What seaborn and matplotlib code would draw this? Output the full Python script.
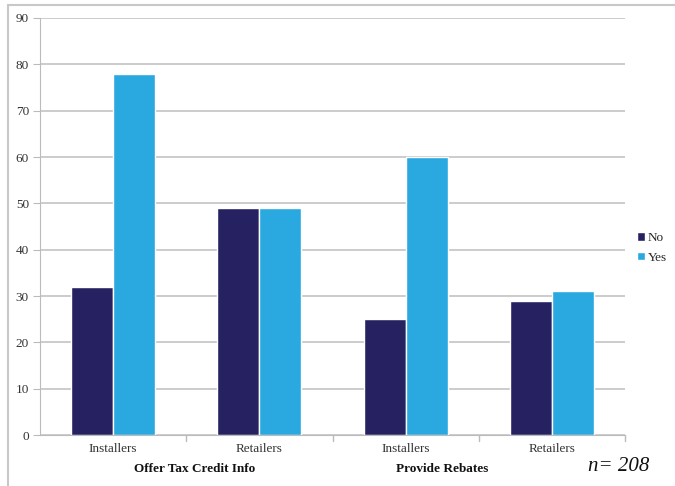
import pandas as pd
import matplotlib
matplotlib.use('Agg')
import matplotlib.pyplot as plt
import seaborn as sns

# ============ DADOS ============
categorias = ['Installers', 'Retailers', 'Installers ', 'Retailers ']
rotulos_x = ['Installers', 'Retailers', 'Installers', 'Retailers']
vals_no = [32, 49, 25, 29]
vals_yes = [78, 49, 60, 31]
grupos = ['Offer Tax Credit Info', 'Provide Rebates']
n_total = 208

cor_no = '#262262'
cor_yes = '#29A9E0'

sns.set_style('white')
plt.rcParams['font.family'] = ['Liberation Serif', 'DejaVu Serif']

df = pd.DataFrame({
    'cat': categorias * 2,
    'valor': vals_no + vals_yes,
    'resp': ['No'] * len(vals_no) + ['Yes'] * len(vals_yes),
})

fig = plt.figure(figsize=(6.75, 4.86), dpi=100)
ax = fig.add_axes([40 / 675, 1 - 435 / 486, 585 / 675, 417 / 486])

sns.barplot(data=df, x='cat', y='valor', hue='resp', order=categorias,
            palette={'No': cor_no, 'Yes': cor_yes}, width=0.575,
            saturation=1, ax=ax, legend=True)

ax.set_xlim(-0.5, 3.5)
ax.set_ylim(0, 90)
ax.set_yticks(range(0, 91, 10))
ax.yaxis.grid(True, color='#c8c8c8', lw=1.3)
ax.set_axisbelow(True)
ax.set_xlabel('')
ax.set_ylabel('')
ax.set_xticks(range(4))
ax.set_xticklabels(rotulos_x, fontsize=9.5, color='#333333')
ax.tick_params(axis='x', length=0, pad=6)
ax.tick_params(axis='y', length=5, color='#bbbbbb', labelsize=9.5,
               labelcolor='#333333', left=True, pad=3)
# ticks nos limites das categorias
for xb in [0.5, 1.5, 2.5, 3.5]:
    ax.plot([xb, xb], [0, -1.2], color='#bbbbbb', lw=1, clip_on=False)
for s in ['top', 'right']:
    ax.spines[s].set_visible(False)
ax.spines['left'].set_color('#bbbbbb')
ax.spines['bottom'].set_color('#bbbbbb')

# rótulos de grupo
ax.text(0.56, -7.4, grupos[0], ha='center', va='center', fontsize=9.5,
        fontweight='bold', color='#111111')
ax.text(2.25, -7.4, grupos[1], ha='center', va='center', fontsize=9.5,
        fontweight='bold', color='#111111')
fig.text(619 / 675, 1 - 466 / 486, f'n= {n_total}', ha='center', va='center',
         fontsize=15, style='italic', color='#111111')

leg = ax.legend(loc='center left', bbox_to_anchor=(637 / 675, 1 - 248 / 486),
                bbox_transform=fig.transFigure, borderaxespad=0, borderpad=0,
                frameon=False, fontsize=9.5, handlelength=0.6,
                handleheight=0.6, handletextpad=0.2, labelspacing=0.6)

# moldura da figura
fig.add_artist(plt.Line2D([8 / 675, 1], [1 - 5 / 486] * 2, color='#c8c8c8', lw=1.5,
                          transform=fig.transFigure))
fig.add_artist(plt.Line2D([8 / 675] * 2, [0, 1 - 5 / 486], color='#c8c8c8', lw=1.5,
                          transform=fig.transFigure))

plt.savefig('out.png', dpi=100)
plt.close()
